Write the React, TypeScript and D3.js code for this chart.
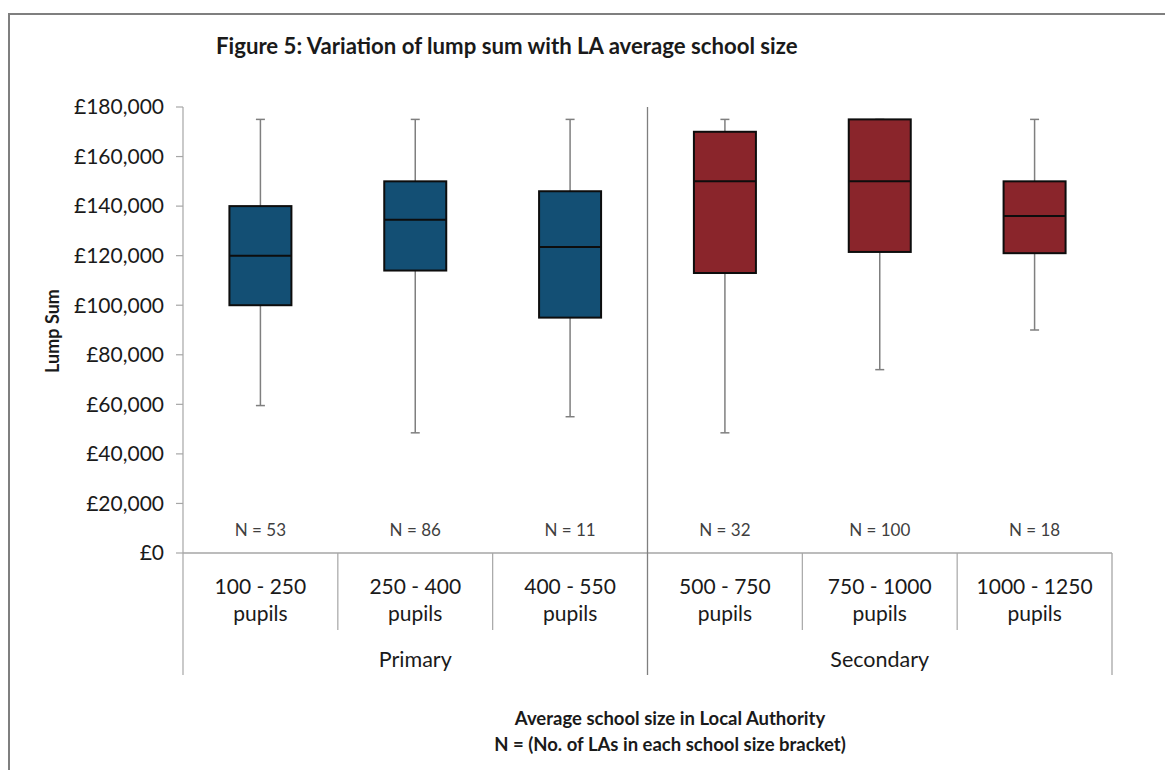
import React from "react";
import * as d3 from "d3";

const categories = ["100 - 250", "250 - 400", "400 - 550", "500 - 750", "750 - 1000", "1000 - 1250"];
const groups = ["Primary", "Primary", "Primary", "Secondary", "Secondary", "Secondary"];
const groupNames = ["Primary", "Secondary"];
const nCounts = [53, 86, 11, 32, 100, 18];
const minVals = [59500, 48500, 55000, 48500, 74000, 90000];
const q1Vals = [100000, 114000, 95000, 113000, 121500, 121000];
const medianVals = [120000, 134500, 123500, 150000, 150000, 136000];
const q3Vals = [140000, 150000, 146000, 170000, 175000, 150000];
const maxVals = [175000, 175000, 175000, 175000, 175000, 175000];
const yTicks = [0, 20000, 40000, 60000, 80000, 100000, 120000, 140000, 160000, 180000];

const colors: Record<string, string> = { Primary: "#134f74", Secondary: "#8a252b" };

export default function App() {
  const left = 183, right = 1112, top = 107, bottom = 553;
  const y = d3.scaleLinear().domain([0, 180000]).range([bottom, top]);
  const x = d3.scaleBand().domain(categories).range([left, right]).paddingInner(0).paddingOuter(0);
  const bw = x.bandwidth();
  const boxW = 62;
  const capW = 9;
  const fmt = (v: number) => "£" + d3.format(",")(v);
  const font = "Lato, 'Open Sans', sans-serif";

  const groupExtent = groupNames.map((g) => {
    const idx = categories.map((_, i) => i).filter((i) => groups[i] === g);
    const x0 = x(categories[idx[0]])!;
    const x1 = x(categories[idx[idx.length - 1]])! + bw;
    return { g, x0, x1 };
  });

  return (
    <svg width={1165} height={770} style={{ position: "absolute", left: 0, top: 0, background: "#fff" }} fontFamily={font}>
      <rect x={9} y={14} width={1170} height={800} fill="#fff" stroke="#7f7f7f" strokeWidth={2} />
      <text x={216} y={54} fontSize={22.2} fontWeight="bold" fill="#1a1a1a">
        Figure 5: Variation of lump sum with LA average school size
      </text>

      {/* y axis */}
      <line x1={left} x2={left} y1={top} y2={675} stroke="#a6a6a6" strokeWidth={1.2} />
      {yTicks.map((t) => (
        <g key={t}>
          <line x1={176} x2={left} y1={y(t)} y2={y(t)} stroke="#a6a6a6" strokeWidth={1.2} />
          <text x={164} y={y(t)} dy="0.35em" textAnchor="end" fontSize={21} fill="#1a1a1a">
            {fmt(t)}
          </text>
        </g>
      ))}
      <text transform={`translate(59,331) rotate(-90)`} textAnchor="middle" fontSize={18} fontWeight="bold" fill="#1a1a1a">
        Lump Sum
      </text>

      {/* x axis */}
      <line x1={left} x2={right} y1={bottom} y2={bottom} stroke="#a6a6a6" strokeWidth={1.5} />
      {categories.map((c, i) => {
        const xs = x(c)! + bw;
        if (i === categories.length - 1 || groups[i] !== groups[i + 1]) return null;
        return <line key={"sep" + i} x1={xs} x2={xs} y1={bottom} y2={630} stroke="#a6a6a6" strokeWidth={1.2} />;
      })}
      {groupExtent.map((ge, i) => (
        <line key={"ge" + i} x1={ge.x1} x2={ge.x1} y1={i === 0 ? top : bottom} y2={675} stroke={i === 0 ? "#7f7f7f" : "#a6a6a6"} strokeWidth={1.3} />
      ))}
      {groupExtent.map((ge) => (
        <text key={ge.g} x={(ge.x0 + ge.x1) / 2} y={667} textAnchor="middle" fontSize={21.5} fill="#1a1a1a">
          {ge.g}
        </text>
      ))}

      {/* boxes */}
      {categories.map((c, i) => {
        const cx = x(c)! + bw / 2;
        const col = colors[groups[i]];
        return (
          <g key={c}>
            <line x1={cx} x2={cx} y1={y(maxVals[i])} y2={y(q3Vals[i])} stroke="#7f7f7f" strokeWidth={1.5} />
            <line x1={cx} x2={cx} y1={y(q1Vals[i])} y2={y(minVals[i])} stroke="#7f7f7f" strokeWidth={1.5} />
            <line x1={cx - capW / 2} x2={cx + capW / 2} y1={y(maxVals[i])} y2={y(maxVals[i])} stroke="#7f7f7f" strokeWidth={1.5} />
            <line x1={cx - capW / 2} x2={cx + capW / 2} y1={y(minVals[i])} y2={y(minVals[i])} stroke="#7f7f7f" strokeWidth={1.5} />
            <rect x={cx - boxW / 2} y={y(q3Vals[i])} width={boxW} height={y(q1Vals[i]) - y(q3Vals[i])} fill={col} stroke="#0d0d0d" strokeWidth={2} />
            <line x1={cx - boxW / 2} x2={cx + boxW / 2} y1={y(medianVals[i])} y2={y(medianVals[i])} stroke="#0d0d0d" strokeWidth={2} />
            <text x={cx} y={530} dy="0.35em" textAnchor="middle" fontSize={17} fill="#404040">
              {"N = " + nCounts[i]}
            </text>
            <text x={cx} y={594} textAnchor="middle" fontSize={21} fill="#1a1a1a">
              {c}
            </text>
            <text x={cx} y={621} textAnchor="middle" fontSize={21} fill="#1a1a1a">
              pupils
            </text>
          </g>
        );
      })}

      <text x={670} y={725} textAnchor="middle" fontSize={18.5} fontWeight="bold" fill="#1a1a1a">
        Average school size in Local Authority
      </text>
      <text x={670} y={751} textAnchor="middle" fontSize={18.5} fontWeight="bold" fill="#1a1a1a">
        N = (No. of LAs in each school size bracket)
      </text>
    </svg>
  );
}
